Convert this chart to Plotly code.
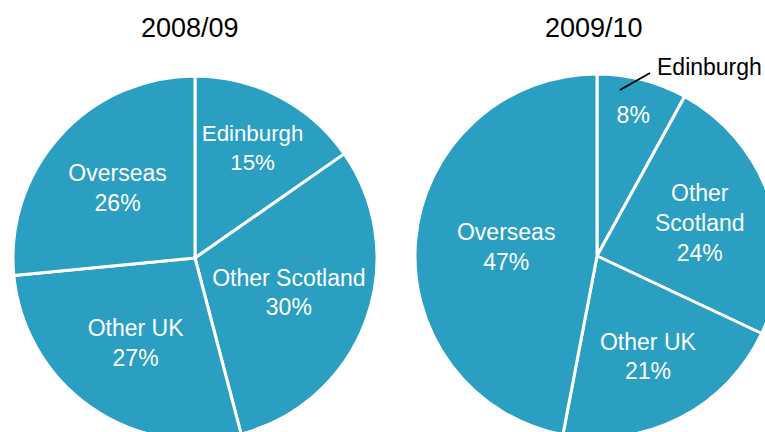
import plotly.graph_objects as go

# Share of students by origin, two academic years
years = ["2008/09", "2009/10"]
categories = ["Edinburgh", "Other Scotland", "Other UK", "Overseas"]
share_0809 = [15, 30, 27, 26]
share_0910 = [8, 24, 21, 47]

names_0809 = ["Edinburgh", "Other Scotland", "Other UK", "Overseas"]
names_0910 = ["", "Other<br>Scotland", "Other UK", "Overseas"]

FILL = "#2a9fc2"
FONT = "Liberation Sans, Arial, sans-serif"

W, H = 800, 470  # canvas is larger than the window; the overflow is clipped


def dom(cx, cy, r):
    return dict(x=[(cx - r) / W, (cx + r) / W], y=[1 - (cy + r) / H, 1 - (cy - r) / H])


def tmpl(names):
    return [("%{text}<br>" if n else "") + "%{value}%" for n in names]


fig = go.Figure()
fig.add_trace(go.Pie(
    labels=categories, values=share_0809, text=names_0809,
    texttemplate=tmpl(names_0809), textposition="inside",
    insidetextorientation="horizontal", sort=False, direction="clockwise",
    marker=dict(colors=[FILL] * 4, line=dict(color="white", width=3)),
    textfont=dict(family=FONT, size=23, color="white"),
    domain=dom(195, 258, 182), hoverinfo="skip", showlegend=False,
))
fig.add_trace(go.Pie(
    labels=categories, values=share_0910, text=names_0910,
    texttemplate=tmpl(names_0910), textposition="inside",
    insidetextorientation="horizontal", sort=False, direction="clockwise",
    marker=dict(colors=[FILL] * 4, line=dict(color="white", width=3)),
    textfont=dict(family=FONT, size=23, color="white"),
    domain=dom(597, 256, 182), hoverinfo="skip", showlegend=False,
))

ann = [
    dict(text=years[0], x=190 / W, y=1 - 28 / H),
    dict(text=years[1], x=594 / W, y=1 - 28 / H),
]
for a in ann:
    a.update(xref="paper", yref="paper", xanchor="center", yanchor="middle",
             showarrow=False, font=dict(family=FONT, size=27, color="black"))
ann.append(dict(
    text=categories[0], xref="paper", yref="paper", x=655 / W, y=1 - 67 / H,
    xanchor="left", yanchor="middle", showarrow=False,
    font=dict(family=FONT, size=23, color="black"),
))

fig.update_layout(
    width=W, height=H, margin=dict(l=0, r=0, t=0, b=0),
    paper_bgcolor="white", plot_bgcolor="white",
    annotations=ann,
    shapes=[dict(type="line", xref="paper", yref="paper",
                 x0=620 / W, y0=1 - 90 / H, x1=650 / W, y1=1 - 73 / H,
                 line=dict(color="black", width=2))],
)

fig.write_html(
    "out.html",
    config=dict(displayModeBar=False),
    post_script="document.body.style.margin='0';document.body.style.overflow='hidden';",
)
